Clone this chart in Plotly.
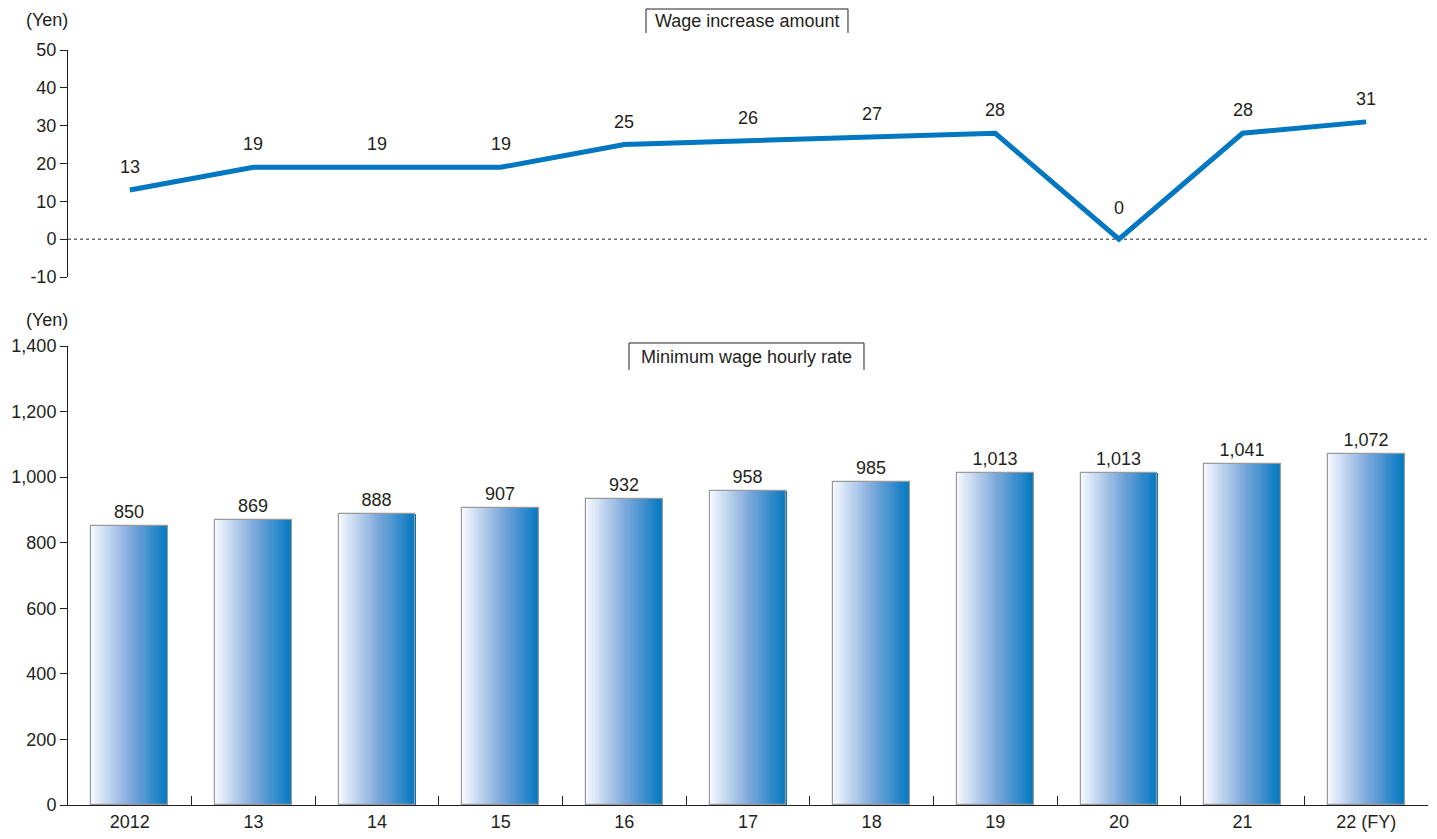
import plotly.graph_objects as go
from plotly.subplots import make_subplots

categories = ["2012", "13", "14", "15", "16", "17", "18", "19", "20", "21", "22 (FY)"]
increase = [13, 19, 19, 19, 25, 26, 27, 28, 0, 28, 31]
hourly = [850, 869, 888, 907, 932, 958, 985, 1013, 1013, 1041, 1072]
top_ticks = [-10, 0, 10, 20, 30, 40, 50]
top_ticktext = ["-10", "0", "10", "20", "30", "40", "50"]
bottom_ticks = [0, 200, 400, 600, 800, 1000, 1200, 1400]

FONT = "Liberation Sans, Arial, sans-serif"
TXT = "#231f20"
BLUE = "#0077c0"
FS = 18

OFF = 8  # page body margin
W, H = 1437, 839
ML = 68 - OFF
MR = W - (1428 - OFF)
MT = 0
MB = H - (805 - OFF)
PW, PH = W - ML - MR, H - MT - MB


def px(x):
    return (x - OFF - ML) / PW


def py(y):
    return (PH - (y - OFF - MT)) / PH


fig = make_subplots(rows=2, cols=1)

# gradient bars built from narrow strips
stops = [(0.0, (246, 249, 254)), (0.5, (128, 170, 220)), (1.0, (0, 119, 192))]


def grad(t):
    for (t0, c0), (t1, c1) in zip(stops[:-1], stops[1:]):
        if t0 <= t <= t1:
            f = (t - t0) / (t1 - t0)
            return "rgb(%d,%d,%d)" % tuple(round(a + (b - a) * f) for a, b in zip(c0, c1))
    return "rgb(0,119,192)"


N = 36
bw = 0.62
sw = bw / N
for i in range(N):
    fig.add_trace(go.Bar(
        x=categories, y=hourly, width=sw * 1.15, offset=-bw / 2 + i * sw,
        marker=dict(color=grad((i + 0.5) / N), line=dict(width=0)),
        hoverinfo="skip", showlegend=False,
    ), row=2, col=1)

fig.add_trace(go.Bar(
    x=categories, y=hourly, width=bw, offset=-bw / 2,
    marker=dict(color="rgba(0,0,0,0)", line=dict(color="#9a9a9a", width=1.2)),
    text=hourly, texttemplate="%{y:,}", textposition="outside",
    textfont=dict(family=FONT, size=FS, color=TXT), cliponaxis=False,
    showlegend=False,
), row=2, col=1)

fig.add_trace(go.Scatter(
    x=categories, y=increase, mode="lines",
    line=dict(color=BLUE, width=5), cliponaxis=False, showlegend=False,
), row=1, col=1)

vmin = min(increase)
for i, v in enumerate(increase):
    fig.add_annotation(x=i, y=v, xref="x", yref="y", text=str(v), showarrow=False,
                       yshift=31 if v == vmin else 23,
                       font=dict(family=FONT, size=FS, color=TXT),
                       xanchor="center", yanchor="middle")

fig.update_layout(
    width=W, height=H, barmode="overlay", bargap=0,
    margin=dict(l=ML, r=MR, t=MT, b=MB, autoexpand=False),
    paper_bgcolor="white", plot_bgcolor="white",
    font=dict(family=FONT, size=FS, color=TXT),
    xaxis=dict(domain=[0, 1], range=[-0.5, 10.5], showline=False, showticklabels=False,
               ticks="", showgrid=False, zeroline=False, anchor="y", automargin=False,
               type="category"),
    yaxis=dict(domain=[py(277), py(50)], range=[-10, 50], tickvals=top_ticks,
               ticktext=top_ticktext,
               showline=True, linecolor=TXT, linewidth=1, ticks="outside", ticklen=7,
               tickcolor=TXT, showgrid=False, zeroline=False, anchor="x", automargin=False),
    xaxis2=dict(domain=[0, 1], range=[-0.5, 10.5], showline=True, linecolor=TXT, linewidth=1,
                ticks="inside", tickson="boundaries", ticklen=9, tickcolor=TXT,
                showgrid=False, zeroline=False, anchor="y2", type="category", automargin=False),
    yaxis2=dict(domain=[0, py(346)], range=[0, 1400], tickvals=bottom_ticks, tickformat=",",
                showline=True, linecolor=TXT, linewidth=1, ticks="outside", ticklen=7,
                tickcolor=TXT, showgrid=False, zeroline=False, anchor="x2", automargin=False),
)

# dashed zero line in top chart
fig.add_shape(type="line", xref="paper", yref="y", x0=0, x1=px(1430), y0=0, y1=0,
              line=dict(color=TXT, width=1, dash="3px,3px"), layer="below")

# open-bottom title boxes
for (x0, x1, y0, y1, ty, label) in [
    (646, 848, 9, 33, 21, "Wage increase amount"),
    (629, 864, 343, 370, 357, "Minimum wage hourly rate"),
]:
    fig.add_shape(type="path", xref="paper", yref="paper",
                  path="M %f %f L %f %f L %f %f L %f %f" % (px(x0), py(y1), px(x0), py(y0),
                                                            px(x1), py(y0), px(x1), py(y1)),
                  line=dict(color=TXT, width=1))
    fig.add_annotation(x=px((x0 + x1) / 2), y=py(ty), xref="paper", yref="paper",
                       text=label, showarrow=False, font=dict(family=FONT, size=FS, color=TXT),
                       xanchor="center", yanchor="middle")

for yy in (20, 320):
    fig.add_annotation(x=px(47), y=py(yy), xref="paper", yref="paper", text="(Yen)",
                       showarrow=False, font=dict(family=FONT, size=FS, color=TXT),
                       xanchor="center", yanchor="middle")

fig.write_html("out.html")
